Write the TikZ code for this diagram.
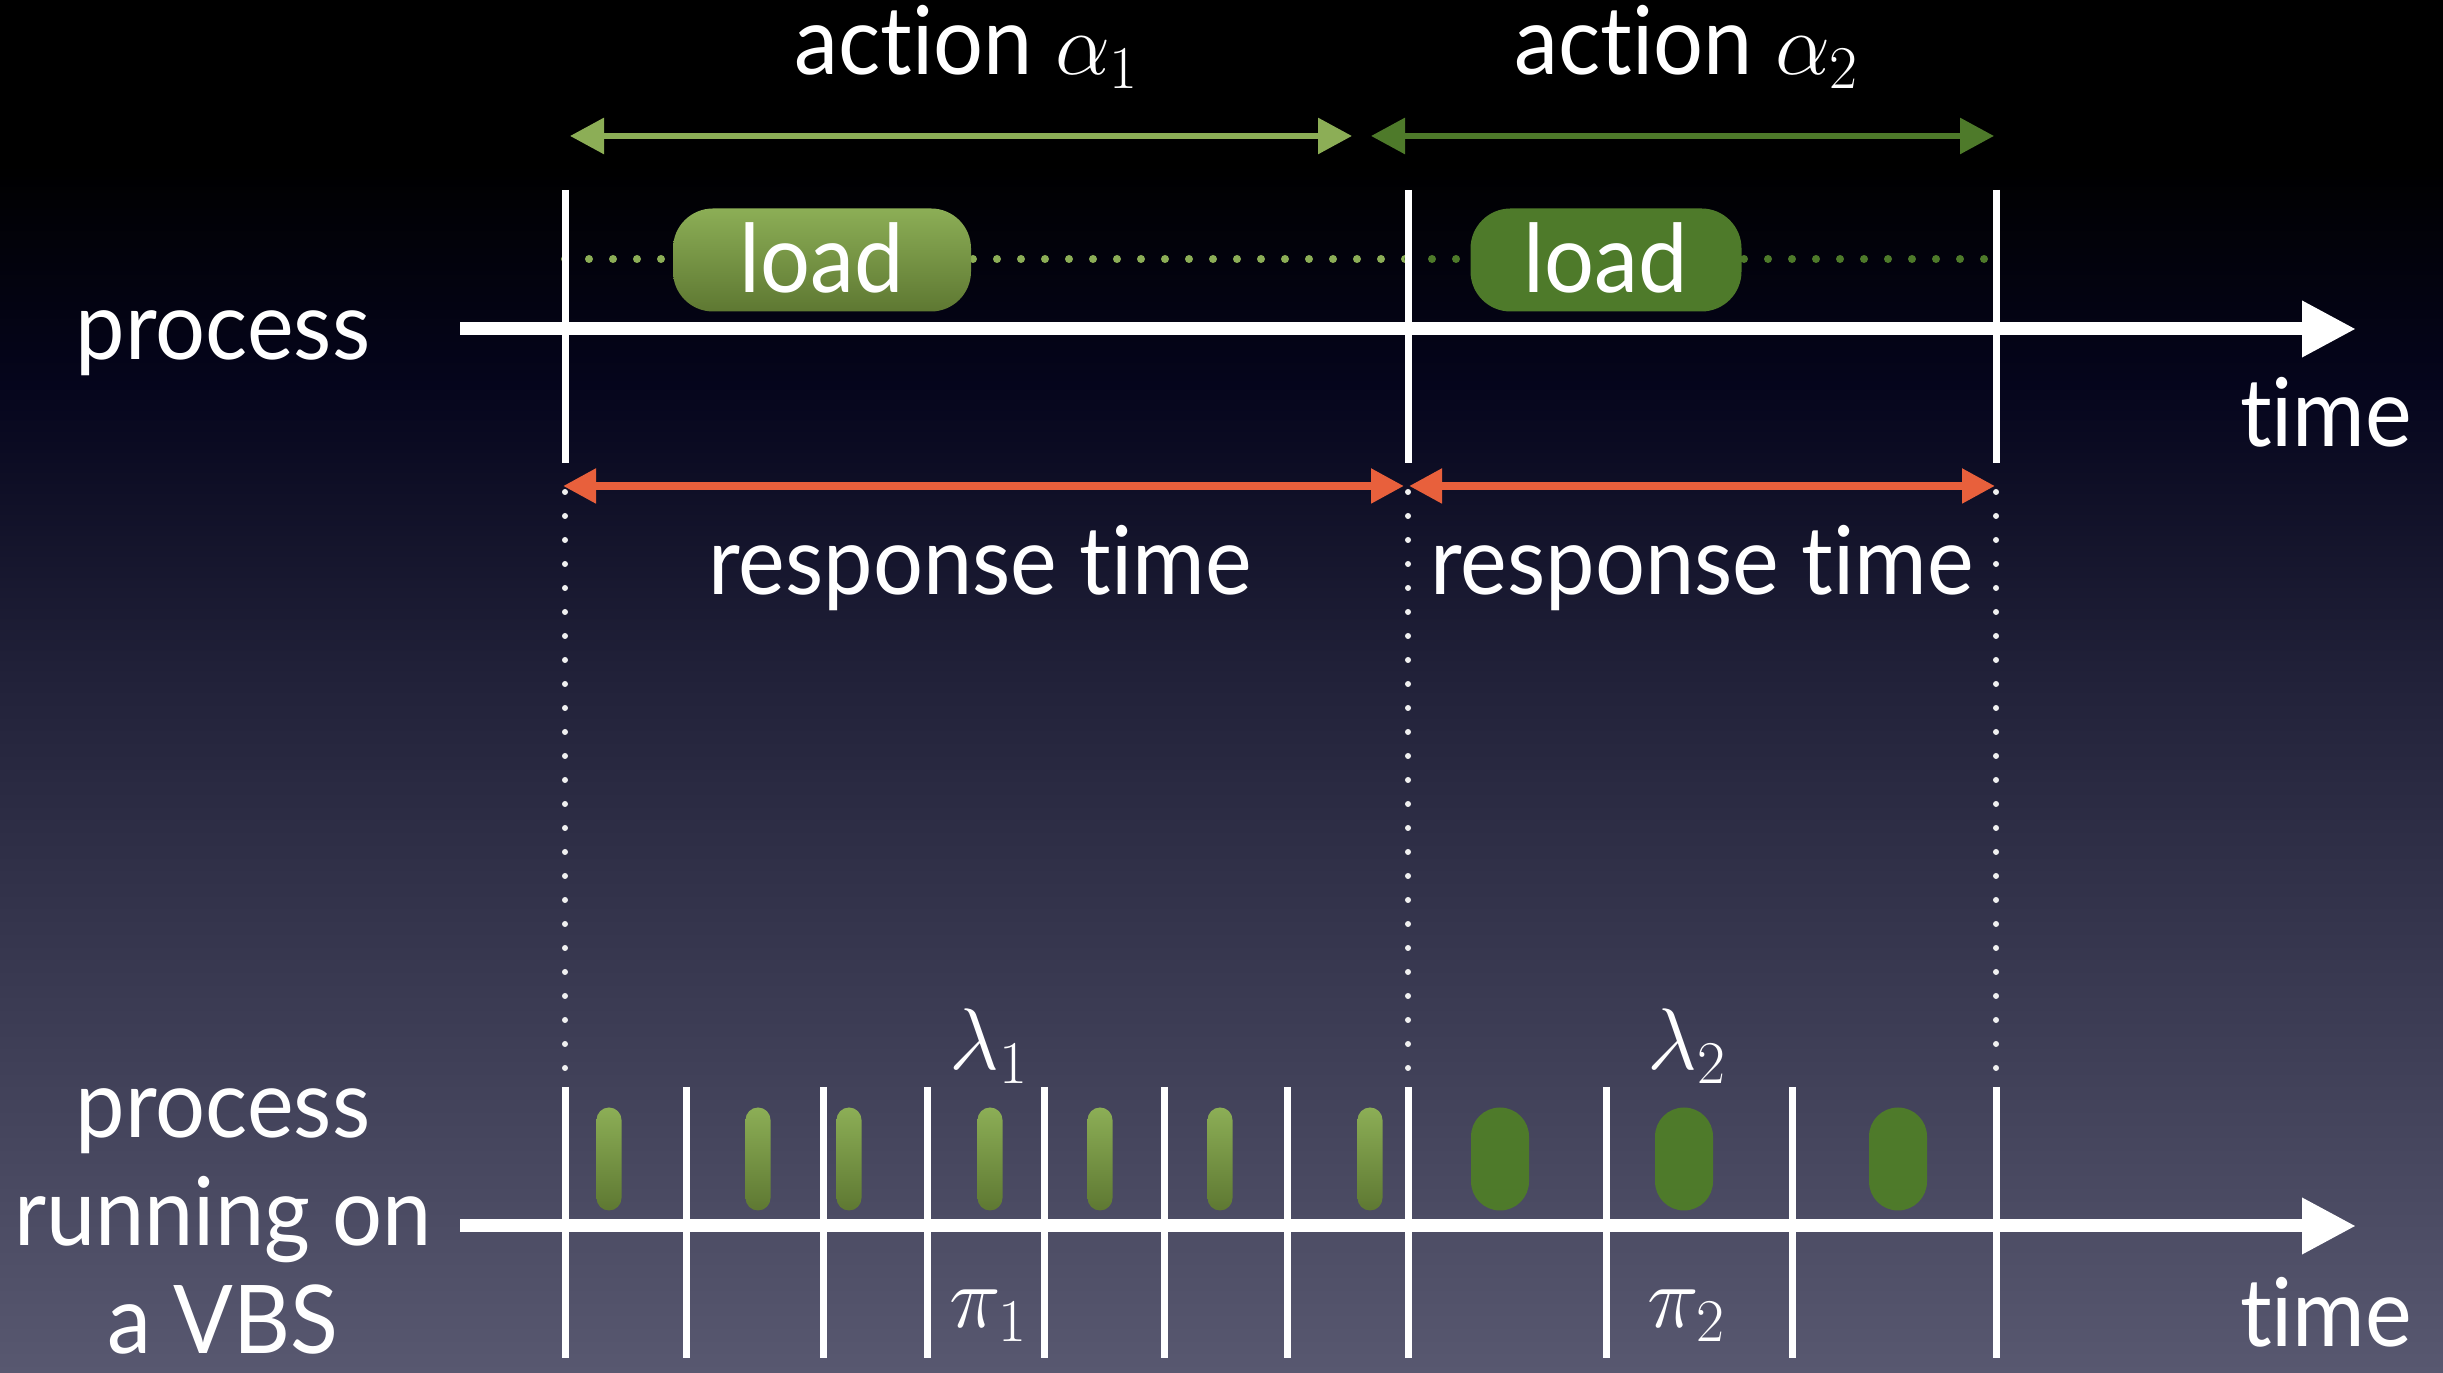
\documentclass[tikz,border=0pt]{standalone}
\usepackage{fontspec}
\setmainfont{Lato}[FakeStretch=0.93, Ligatures=NoCommon]
\usetikzlibrary{arrows.meta, positioning, calc}

\definecolor{bgbot}{RGB}{88,88,112}
\definecolor{bgmid}{RGB}{34,34,58}
\definecolor{bgnavy}{RGB}{5,5,28}
\definecolor{leaflight}{RGB}{140,174,86}
\definecolor{leafshade}{RGB}{94,120,50}
\definecolor{leafdark}{RGB}{78,122,42}
\definecolor{respred}{RGB}{232,96,60}

% the path spans 25bp..75bp of the shading
\pgfdeclareverticalshading{slidebg}{100bp}{%
  color(0bp)=(bgbot); color(25bp)=(bgbot); color(50bp)=(bgmid);
  color(61bp)=(bgnavy); color(69bp)=(black); color(100bp)=(black)}

\tikzset{
  big/.style={text=white, inner sep=0pt, font=\fontsize{27}{32}\selectfont},
  bar/.style={draw=white, line width=0.7mm},
  timeaxis/.style={draw=white, line width=1.3mm,
    -{Triangle[length=5.4mm,width=5.3mm]}},
  span/.style={line width=0.6mm,
    {Triangle[length=3.4mm,width=3.5mm]}-{Triangle[length=3.4mm,width=3.5mm]}},
  resp/.style={draw=respred, line width=0.8mm,
    {Triangle[length=3.3mm,width=3.3mm]}-{Triangle[length=3.3mm,width=3.3mm]}},
  guide/.style={draw=white!88!gray, line width=0.6mm, line cap=round,
    dash pattern=on 0pt off 2.4mm},
  trail/.style={line width=0.8mm, line cap=round,
    dash pattern=on 0pt off 2.4mm},
  loadbox/.style={rectangle, rounded corners=4mm, minimum height=10.3mm,
    text=white, inner sep=0pt, font=\fontsize{27}{32}\selectfont},
  slice/.style={rectangle, inner sep=0pt, minimum height=10.3mm}
}

\begin{document}
\begin{tikzpicture}[x=0.1mm, y=0.1mm]
  \useasboundingbox (0,0) rectangle (2443,1373);
  \shade[shading=slidebg] (0,0) rectangle (2443,1373);

  % upper time line
  \coordinate (ustart) at (460,1044);
  \coordinate (uend) at (2356,1044);
  \coordinate (ua) at (565,1044);
  \coordinate (ub) at (1408,1044);
  \coordinate (uc) at (1996,1044);

  \draw[trail, leaflight] (565,1114) -- (1408,1114);
  \draw[trail, leafdark]  (1408,1114) -- (1996,1114);

  \node[loadbox, minimum width=29.8mm, top color=leaflight, bottom color=leafshade]
    (load1) at (822,1113) {};
  \node[loadbox, minimum width=27.1mm, fill=leafdark] (load2) at (1606,1113) {};
  \node[big, anchor=base] (load1t) at (822,1080) {load};
  \node[big, anchor=base] (load2t) at (1606,1080) {load};

  \draw[timeaxis] (ustart) -- (uend);
  \foreach \n in {ua,ub,uc}
    \draw[bar] ($(\n)+(0,139)$) -- ($(\n)+(0,-134)$);

  \node[big, anchor=base] (proc) at (223,1013) {process};
  \node[big, anchor=base] (time1) at (2326,926) {time};

  % actions
  \coordinate (a1l) at (570,1237);
  \coordinate (a1r) at (1352,1237);
  \coordinate (a2l) at (1371,1237);
  \coordinate (a2r) at (1994,1237);
  \draw[span, leaflight] (a1l) -- (a1r);
  \draw[span, leafdark] (a2l) -- (a2r);
  \node[big, anchor=base] (act1) at (967,1298) {action $\alpha_1$};
  \node[big, anchor=base] (act2) at (1687,1298) {action $\alpha_2$};

  % response times
  \coordinate (r1l) at (563,887);
  \coordinate (r1r) at (1404,887);
  \coordinate (r2l) at (1409,887);
  \coordinate (r2r) at (1995,887);
  \draw[resp] (r1l) -- (r1r);
  \draw[resp] (r2l) -- (r2r);
  \node[big, anchor=base] (rt1) at (980,778) {response time};
  \node[big, anchor=base] (rt2) at (1702,778) {response time};

  \foreach \x in {565,1408,1996}
    \draw[guide] (\x,881) -- (\x,298);

  % lower time line
  \coordinate (lstart) at (460,147);
  \coordinate (lend) at (2356,147);

  \foreach \x in {609,758,849,990,1100,1220,1370}
    \node[slice, minimum width=2.5mm, rounded corners=1.25mm,
          top color=leaflight, bottom color=leafshade] (s\x) at (\x,214) {};
  \foreach \x in {1500,1684,1898}
    \node[slice, minimum width=5.8mm, rounded corners=2.9mm,
          fill=leafdark] (s\x) at (\x,214) {};

  \draw[timeaxis] (lstart) -- (lend);
  \foreach \x in {565,686,823,927,1044,1164,1287,1408,1606,1792,1996}
    \draw[bar] (\x,286) -- (\x,15);

  \node[big, anchor=base] (lam1) at (989,303) {$\lambda_1$};
  \node[big, anchor=base] (lam2) at (1687,303) {$\lambda_2$};
  \node[big, anchor=base] (pi1) at (989,45) {$\pi_1$};
  \node[big, anchor=base] (pi2) at (1687,45) {$\pi_2$};

  \node[big, anchor=base, align=center, font=\fontsize{27}{30.7}\selectfont]
    (vbs) at (223,20) {process\\running on\\a VBS};
  \node[big, anchor=base] (time2) at (2326,26) {time};
\end{tikzpicture}
\end{document}
